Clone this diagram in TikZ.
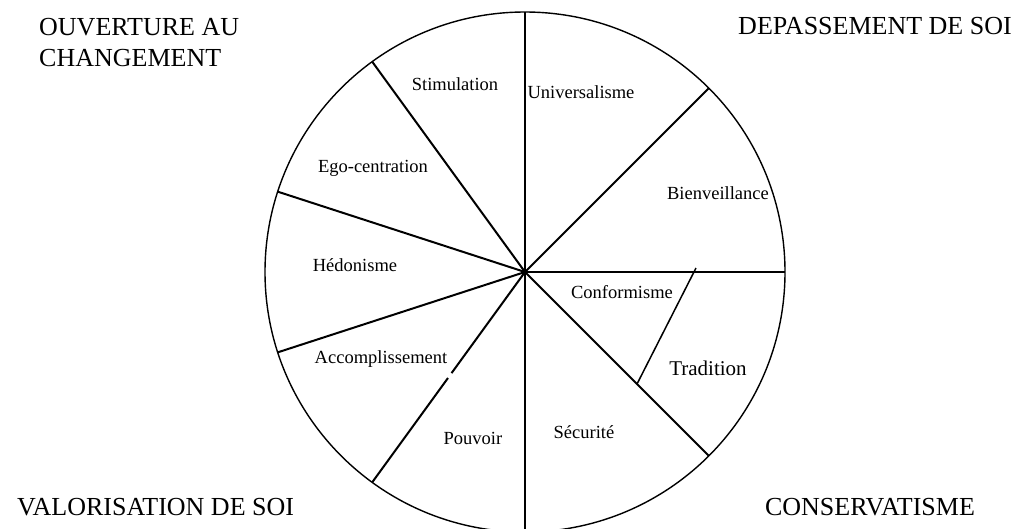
\documentclass[tikz,border=0pt]{standalone}
\usepackage{fontspec}
\setmainfont{Liberation Serif}
\usetikzlibrary{calc}
\begin{document}
\begin{tikzpicture}[x=1pt,y=1pt,
  ring/.style={line width=1.4pt},
  spoke/.style={line width=2pt},
  lab/.style={font=\fontsize{18.5}{22}\selectfont, inner sep=0pt},
  biglab/.style={font=\fontsize{21}{25}\selectfont, inner sep=0pt},
  corner/.style={font=\fontsize{26}{31}\selectfont, inner sep=0pt, align=left},
]
\useasboundingbox (0,0) rectangle (1033,-528);
\clip (0,0) rectangle (1033,-528);
\coordinate (o) at (525,-272);
\draw[ring] (o) circle[radius=260];
\foreach \a in {90,45,0,-45,-90,126,162,198,234}{
  \coordinate (p\a) at ($(o)+(\a:260)$);
}
\draw[spoke] (o) -- (p90);
\draw[spoke] (o) -- (p45);
\draw[spoke] (o) -- (p0);
\draw[spoke] (o) -- (p-45);
\draw[spoke] (o) -- (p-90);
\draw[spoke] (o) -- (p126);
\draw[spoke] (o) -- (p162);
\draw[spoke] (o) -- (p198);
\coordinate (g1) at ($(o)+(234:125)$);
\coordinate (g2) at ($(o)+(234:131)$);
\draw[spoke] (o) -- (g1);
\draw[spoke] (g2) -- (p234);
\coordinate (ct1) at (696,-268);
\coordinate (ct2) at ($(o)+(-45:158.4)$);
\draw[line width=1.5pt] (ct1) -- (ct2);
% sector labels
\node[lab] (stim) at (455,-84) {Stimulation};
\node[lab] (univ) at (581,-92) {Universalisme};
\node[lab] (ego) at (373,-168) {Ego-centration};
\node[lab] (bien) at (718,-193) {Bienveillance};
\node[lab] (hedo) at (355,-265) {Hédonisme};
\node[lab] (conf) at (622,-292) {Conformisme};
\node[lab] (acc) at (381,-359) {Accomplissement};
\node[biglab] (trad) at (708,-368) {Tradition};
\node[lab] (pouv) at (473,-438) {Pouvoir};
\node[lab] (secu) at (584,-432) {Sécurité};
% corner labels
\node[corner, anchor=west] (ouv) at (39,-42.5) {OUVERTURE AU\\CHANGEMENT};
\node[corner] (dep) at (875,-26) {DEPASSEMENT DE SOI};
\node[corner, anchor=west] (val) at (17,-507) {VALORISATION DE SOI};
\node[corner] (cons) at (870,-507) {CONSERVATISME};
\end{tikzpicture}
\end{document}
